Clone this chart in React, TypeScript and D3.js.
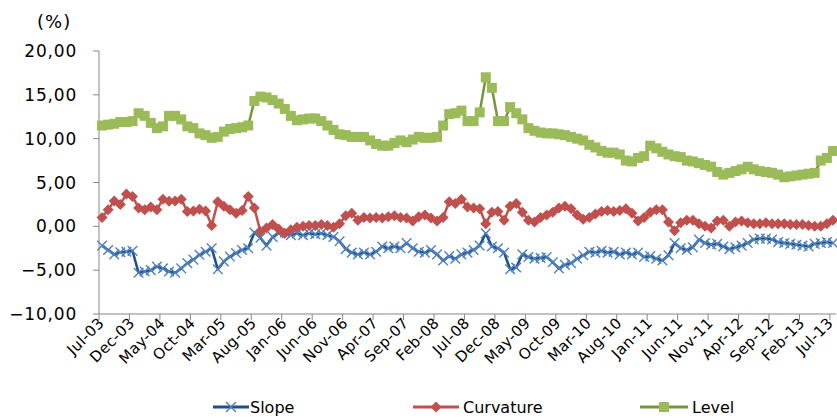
import React from "react";
import * as d3 from "d3";

const W = 837;
const H = 418;

const tickLabels = ["Jul-03","Dec-03","May-04","Oct-04","Mar-05","Aug-05","Jan-06","Jun-06","Nov-06","Apr-07","Sep-07","Feb-08","Jul-08","Dec-08","May-09","Oct-09","Mar-10","Aug-10","Jan-11","Jun-11","Nov-11","Apr-12","Sep-12","Feb-13","Jul-13"];

const yTicks = [-10, -5, 0, 5, 10, 15, 20];

const slope = [
  -2.2,-2.7,-3.2,-2.95,-2.9,-2.8,-5.3,-5.15,-5.0,-4.6,
  -4.8,-5.15,-5.3,-4.8,-4.2,-3.8,-3.25,-2.9,-2.5,-4.9,
  -4.0,-3.45,-3.05,-2.7,-2.5,-0.7,-1.3,-2.2,-1.2,-0.8,
  -0.7,-1.0,-0.8,-1.0,-0.8,-0.9,-0.8,-1.0,-1.2,-1.7,
  -2.6,-3.0,-3.2,-3.0,-3.2,-2.9,-2.3,-2.5,-2.3,-2.5,
  -1.9,-2.5,-2.9,-3.0,-2.7,-3.2,-3.9,-3.4,-3.7,-3.2,
  -3.0,-2.7,-2.2,-0.8,-2.3,-2.5,-3.0,-4.9,-4.7,-3.2,
  -3.5,-3.7,-3.6,-3.5,-4.1,-4.8,-4.4,-4.2,-3.7,-3.3,
  -2.9,-3.0,-2.8,-3.0,-2.9,-3.2,-3.0,-3.2,-3.0,-3.5,
  -3.4,-3.7,-3.9,-3.3,-1.9,-2.5,-2.7,-2.4,-1.5,-1.9,
  -2.1,-2.0,-2.3,-2.6,-2.4,-2.2,-1.9,-1.5,-1.4,-1.4,
  -1.5,-1.8,-1.9,-2.0,-2.1,-2.2,-2.3,-2.0,-1.9,-1.8,
  -1.9
];

const curvature = [
  1.0,1.9,2.9,2.5,3.7,3.4,2.1,1.9,2.2,1.9,
  3.1,2.85,2.9,3.1,1.7,1.75,1.95,1.75,0.1,2.8,
  2.3,1.9,1.5,1.8,3.4,2.1,-0.6,-0.2,0.2,-0.3,
  -0.8,-0.4,-0.1,0.0,0.1,0.1,0.2,0.1,-0.1,0.3,
  1.2,1.5,0.7,1.0,0.95,1.0,0.95,1.1,1.2,1.0,
  0.95,0.6,1.1,1.3,0.95,0.6,1.0,2.8,2.6,3.1,
  2.2,2.1,2.0,0.3,1.6,1.7,0.7,2.3,2.6,1.6,
  0.7,0.5,1.0,1.3,1.6,2.1,2.3,2.0,1.3,0.8,
  1.0,1.4,1.7,1.8,1.7,1.8,2.0,1.5,0.6,1.0,
  1.6,1.9,1.9,0.5,-0.5,0.4,0.7,0.7,0.3,0.0,
  -0.2,0.6,0.7,0.0,0.5,0.6,0.4,0.3,0.3,0.4,
  0.3,0.3,0.3,0.2,0.2,0.2,0.1,0.0,0.0,0.3,
  0.7
];

const level = [
  11.5,11.6,11.7,11.9,11.9,12.0,12.9,12.6,11.8,11.2,
  11.4,12.6,12.6,12.2,11.4,11.2,10.6,10.4,10.1,10.2,
  10.8,11.1,11.2,11.3,11.5,14.3,14.8,14.7,14.4,14.0,
  13.4,12.6,12.1,12.2,12.3,12.3,12.0,11.5,11.0,10.5,
  10.4,10.2,10.2,10.2,9.8,9.4,9.2,9.2,9.5,9.8,
  9.6,9.9,10.2,10.1,10.1,10.2,11.5,12.8,12.9,13.2,
  12.0,12.0,13.0,17.0,15.8,12.0,12.0,13.6,12.9,12.2,
  11.2,10.9,10.7,10.6,10.6,10.5,10.4,10.2,10.0,9.8,
  9.3,9.0,8.6,8.4,8.4,8.2,7.5,7.4,7.8,8.0,
  9.2,8.9,8.5,8.2,8.0,7.9,7.5,7.4,7.2,7.0,
  6.8,6.2,5.9,6.1,6.3,6.5,6.8,6.5,6.3,6.2,
  6.1,5.9,5.6,5.7,5.8,5.9,6.0,6.1,7.5,7.8,
  8.6
];

const months = d3.timeMonth.range(new Date(2003, 6, 1), new Date(2013, 7, 1));

const AX = "#868686";
const FONT = "'DejaVu Sans', Verdana, sans-serif";

export default function App() {
  const left = 99, right = 836, top = 51, bottom = 314;
  const x = d3.scaleBand<number>().domain(months.map((_, i) => i)).range([left, right]).paddingInner(0).paddingOuter(0);
  const y = d3.scaleLinear().domain([-10, 20]).range([bottom, top]);
  const cx = (i: number) => (x(i) as number) + x.bandwidth() / 2;
  const fmt = (v: number) => d3.format(".2f")(v).replace(".", ",");
  const line = d3.line<number>().x((_, i) => cx(i)).y((d) => y(d));

  const xTickIdx = tickLabels.map((_, k) => k * 5);

  const xMark = (px: number, py: number, color: string, key: string | number, s = 4.8) => (
    <g key={key}>
      <line x1={px - s} y1={py - s} x2={px + s} y2={py + s} stroke={color} strokeWidth={1.4} />
      <line x1={px - s} y1={py + s} x2={px + s} y2={py - s} stroke={color} strokeWidth={1.4} />
    </g>
  );
  const diamond = (px: number, py: number, color: string, key: string | number, s = 5.5) => (
    <path key={key} d={`M${px},${py - s}L${px + s},${py}L${px},${py + s}L${px - s},${py}Z`} fill={color} />
  );
  const square = (px: number, py: number, color: string, key: string | number, s = 5) => (
    <rect key={key} x={px - s} y={py - s} width={2 * s} height={2 * s} fill={color} />
  );

  const legendY = 407;

  return (
    <svg width={W} height={H} style={{ position: "absolute", left: 0, top: 0, background: "#fff" }}>
      <rect width={W} height={H} fill="#fff" />
      <text x={37} y={28} fontFamily={FONT} fontSize={18} letterSpacing={1} fill="#000">(%)</text>

      {/* y axis */}
      <line x1={left} x2={left} y1={top} y2={bottom} stroke={AX} strokeWidth={1} />
      {yTicks.map((t) => (
        <g key={t}>
          <line x1={left - 6} x2={left} y1={y(t)} y2={y(t)} stroke={AX} />
          <text x={77} y={y(t)} dy="0.36em" textAnchor="end" fontFamily={FONT} fontSize={17} letterSpacing={0.8} fill="#000">{fmt(t)}</text>
        </g>
      ))}

      {/* x axis */}
      <line x1={left} x2={right} y1={bottom} y2={bottom} stroke={AX} />
      {xTickIdx.map((i) => (
        <line key={i} x1={x(i) as number} x2={x(i) as number} y1={bottom} y2={bottom + 6} stroke={AX} />
      ))}
      {xTickIdx.map((i, k) => (
        <text key={"l" + i} transform={`translate(${Math.min(cx(i) + 3, 834)},${bottom + 10}) rotate(-45)`} textAnchor="end" fontFamily={FONT} fontSize={15} letterSpacing={0.4} fill="#000">{tickLabels[k]}</text>
      ))}

      {/* Slope */}
      <path d={line(slope) || ""} fill="none" stroke="#1F4E8C" strokeWidth={2.5} strokeLinejoin="round" />
      {slope.map((v, i) => xMark(cx(i), y(v), "#4F81BD", "s" + i))}

      {/* Curvature */}
      <path d={line(curvature) || ""} fill="none" stroke="#C0504D" strokeWidth={2.5} strokeLinejoin="round" />
      {curvature.map((v, i) => diamond(cx(i), y(v), "#C0504D", "c" + i))}

      {/* Level */}
      <path d={line(level) || ""} fill="none" stroke="#77933C" strokeWidth={2.5} strokeLinejoin="round" />
      {level.map((v, i) => square(cx(i), y(v), "#9BBB59", "v" + i))}

      {/* legend */}
      <g>
        <line x1={213} x2={249} y1={legendY} y2={legendY} stroke="#1F4E8C" strokeWidth={3} />
        {xMark(231, legendY, "#4F81BD", "lgs", 5)}
        <text x={250} y={legendY} dy="0.36em" fontFamily={FONT} fontSize={16} fill="#000">Slope</text>
        <line x1={413} x2={459} y1={legendY} y2={legendY} stroke="#C0504D" strokeWidth={3} />
        {diamond(436, legendY, "#C0504D", "lgc", 5.5)}
        <text x={463} y={legendY} dy="0.36em" fontFamily={FONT} fontSize={16} fill="#000">Curvature</text>
        <line x1={640} x2={688} y1={legendY} y2={legendY} stroke="#77933C" strokeWidth={3} />
        {square(664, legendY, "#9BBB59", "lgv", 5)}
        <text x={692} y={legendY} dy="0.36em" fontFamily={FONT} fontSize={16} fill="#000">Level</text>
      </g>
    </svg>
  );
}
